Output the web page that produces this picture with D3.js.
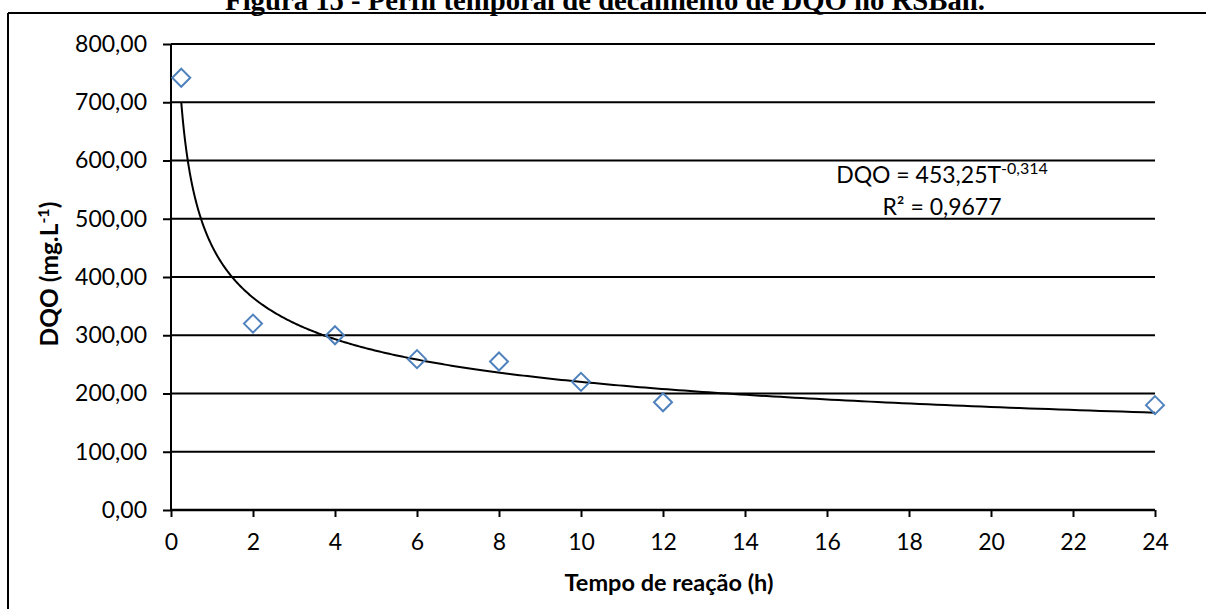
<!DOCTYPE html>
<html>
<head>
<meta charset="utf-8">
<script src="https://cdn.jsdelivr.net/npm/d3@7"></script>
<style>
  html, body { margin: 0; padding: 0; background: #fff; }
  svg { display: block; }
  .tick text { font-family: Lato, "Open Sans", sans-serif; }
</style>
</head>
<body>
<svg id="chart" width="1206" height="609"></svg>
<script>
// Reaction time (h) and measured COD (mg/L)
const tempo = [0.25, 2, 4, 6, 8, 10, 12, 24];
const dqo = [742, 320, 300, 259, 255, 220, 185, 180];

// Power-law fit: DQO = a * T^b
const fitA = 453.25;
const fitB = -0.314;
const r2Label = "0,9677";

const xTicks = [0, 2, 4, 6, 8, 10, 12, 14, 16, 18, 20, 22, 24];
const yTicks = [0, 100, 200, 300, 400, 500, 600, 700, 800];

const titleText = "Figura 15 - Perfil temporal de decaimento de DQO no RSBan.";
const xTitle = "Tempo de reação (h)";

const svg = d3.select("#chart");
const margin = { left: 171, right: 51, top: 44, bottom: 99 };
const W = 1206, H = 609;

const x = d3.scaleLinear().domain([0, 24]).range([margin.left, W - margin.right]);
const y = d3.scaleLinear().domain([0, 800]).range([H - margin.bottom, margin.top]);

const fmt = v => d3.format(".2f")(v).replace(".", ",");

// Outer frame (top and left edges visible)
svg.append("line").attr("x1", 8).attr("x2", W).attr("y1", 13).attr("y2", 13)
  .attr("stroke", "#000").attr("stroke-width", 2);
svg.append("line").attr("x1", 8).attr("x2", 8).attr("y1", 13).attr("y2", H)
  .attr("stroke", "#000").attr("stroke-width", 2);

// Title, partly clipped above the frame
const title = svg.append("text")
  .attr("x", 605).attr("y", 10)
  .attr("text-anchor", "middle")
  .attr("font-family", "'Liberation Serif', 'Times New Roman', serif")
  .attr("font-weight", "bold")
  .attr("font-size", 22)
  .text(titleText);
const tw = title.node().getComputedTextLength();
title.attr("font-size", 22 * 760 / tw);

// Horizontal gridlines
svg.append("g").selectAll("line")
  .data(yTicks.filter(d => d > 0))
  .join("line")
  .attr("x1", x(0)).attr("x2", x(24))
  .attr("y1", d => y(d)).attr("y2", d => y(d))
  .attr("stroke", "#000").attr("stroke-width", 1.8);

// Y axis
const yAxis = svg.append("g")
  .attr("transform", `translate(${x(0)},0)`)
  .call(d3.axisLeft(y).tickValues(yTicks).tickFormat(fmt).tickSize(8).tickPadding(16));
yAxis.select(".domain").attr("stroke", "#000").attr("stroke-width", 2).attr("d", `M0,${y(0)}V${y(800)}`);
yAxis.selectAll(".tick line").attr("stroke", "#000").attr("stroke-width", 2);
yAxis.selectAll(".tick text").attr("font-size", 23).attr("fill", "#000");

// X axis
const xAxis = svg.append("g")
  .attr("transform", `translate(0,${y(0)})`)
  .call(d3.axisBottom(x).tickValues(xTicks).tickFormat(d3.format("d")).tickSize(7).tickPadding(17));
xAxis.select(".domain").attr("stroke", "#000").attr("stroke-width", 2.5).attr("d", `M${x(0)},0H${x(24)}`);
xAxis.selectAll(".tick line").attr("stroke", "#000").attr("stroke-width", 2);
xAxis.selectAll(".tick text").attr("font-size", 23).attr("fill", "#000");

// Trendline
const curveT = d3.range(0, 401).map(i => tempo[0] * Math.pow(24 / tempo[0], i / 400));
svg.append("path")
  .datum(curveT)
  .attr("fill", "none").attr("stroke", "#000").attr("stroke-width", 2)
  .attr("d", d3.line().x(t => x(t)).y(t => y(fitA * Math.pow(t, fitB))));

// Observed points as hollow diamonds
svg.append("g").selectAll("path")
  .data(tempo.map((t, i) => [t, dqo[i]]))
  .join("path")
  .attr("transform", d => `translate(${x(d[0])},${y(d[1])})`)
  .attr("d", "M0,-9L9,0L0,9L-9,0Z")
  .attr("fill", "none")
  .attr("stroke", "#4F81BD")
  .attr("stroke-width", 2);

// Fit equation
const eq = svg.append("text")
  .attr("x", 942).attr("y", 183)
  .attr("text-anchor", "middle")
  .attr("font-family", "Lato, 'Open Sans', sans-serif")
  .attr("font-size", 23);
eq.append("tspan").text("DQO = " + String(fitA).replace(".", ",") + "T");
eq.append("tspan").attr("dy", -9).attr("font-size", 16).text(String(fitB).replace(".", ","));

svg.append("text")
  .attr("x", 942).attr("y", 215)
  .attr("text-anchor", "middle")
  .attr("font-family", "Lato, 'Open Sans', sans-serif")
  .attr("font-size", 23)
  .text("R² = " + r2Label);

// Axis titles
svg.append("text")
  .attr("x", 669).attr("y", 591)
  .attr("text-anchor", "middle")
  .attr("font-family", "Lato, 'Open Sans', sans-serif")
  .attr("font-weight", "bold")
  .attr("font-size", 23.5)
  .text(xTitle);

const yt = svg.append("text")
  .attr("transform", "translate(58,274) rotate(-90)")
  .attr("text-anchor", "middle")
  .attr("font-family", "Lato, 'Open Sans', sans-serif")
  .attr("font-weight", "bold")
  .attr("font-size", 24.5);
yt.append("tspan").text("DQO (mg.L");
yt.append("tspan").attr("dy", -9).attr("font-size", 16).text("-1");
yt.append("tspan").attr("dy", 9).text(")");
</script>
</body>
</html>
